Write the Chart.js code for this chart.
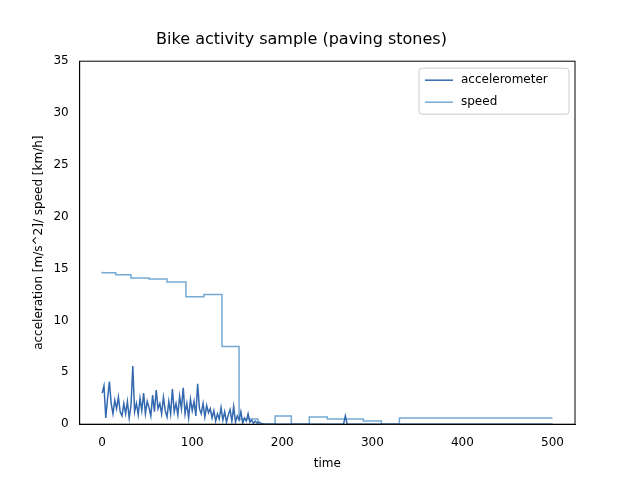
<!DOCTYPE html>
<html>
<head>
<script src="https://cdn.jsdelivr.net/npm/chart.js"></script>
<style>body{margin:0;background:#fff}</style>
</head>
<body>
<canvas id="myChart" width="640" height="480"></canvas>
<script>
// accelerometer samples every 2 time units from 0 to 180
const accValues = [3.0,3.7,0.6,2.5,4.1,2.0,1.0,2.3,1.5,2.6,1.2,0.8,2.0,1.0,2.2,0.6,1.8,5.6,1.2,2.0,
  0.9,2.5,1.3,3.0,1.0,2.2,1.6,0.8,2.8,1.2,3.3,1.5,2.0,1.0,2.6,1.3,0.7,2.2,1.0,3.4,
  1.2,2.0,0.9,2.7,1.5,3.5,1.0,2.0,0.6,2.4,1.3,2.2,0.8,3.9,1.5,1.0,2.0,0.7,1.8,1.1,
  1.5,0.6,1.3,0.3,1.0,0.5,1.6,0.4,1.2,0.2,0.9,1.4,0.3,1.7,0.2,0.8,0.4,1.2,0.1,0.6,
  0.3,1.0,0.2,0.4,0.1,0.3,0.1,0.2,0.1,0.05,0.0];
const accTailX = [200, 268, 270, 272, 500];
const accTailY = [0, 0, 0.8, 0, 0];

const speedX = [0, 15, 32, 52, 72, 93, 113, 133, 152, 173, 192, 210, 230, 250, 290, 310, 330, 388, 500];
const speedY = [14.7, 14.6, 14.4, 14.1, 14.0, 13.7, 12.3, 12.5, 7.5, 0.5, 0.0, 0.8, 0.0, 0.7, 0.5, 0.3, 0.0, 0.6, 0.6];

const xTicks = [0, 100, 200, 300, 400, 500];
const yTicks = [0, 5, 10, 15, 20, 25, 30, 35];

const accData = accValues.map((v, i) => ({x: i * 2, y: v}))
  .concat(accTailX.map((x, i) => ({x: x, y: accTailY[i]})));
const speedData = speedX.map((x, i) => ({x: x, y: speedY[i]}));

const font = {family: 'DejaVu Sans', size: 12};
const ctx = document.getElementById('myChart').getContext('2d');
new Chart(ctx, {
  type: 'line',
  data: {
    datasets: [{
      label: 'accelerometer',
      data: accData,
      borderColor: '#3469b0',
      borderWidth: 1.5,
      pointRadius: 0
    }, {
      label: 'speed',
      data: speedData,
      stepped: 'after',
      borderColor: '#74a9d4',
      borderWidth: 1.5,
      pointRadius: 0
    }]
  },
  options: {
    responsive: false,
    animation: false,
    layout: {padding: {left: 28, right: 65, top: 5, bottom: 5}},
    plugins: {
      title: {display: true, text: 'Bike activity sample (paving stones)', color: '#000',
        font: {family: 'DejaVu Sans', size: 16, weight: 'normal'}, padding: {top: 25, bottom: 12}},
      legend: {display: false}
    },
    scales: {
      x: {
        type: 'linear', min: -25, max: 525,
        afterBuildTicks: s => { s.ticks = xTicks.map(v => ({value: v})); },
        title: {display: true, text: 'time', color: '#000', font: font},
        grid: {display: false},
        border: {color: '#000'},
        ticks: {color: '#000', font: font}
      },
      y: {
        min: 0, max: 35,
        afterBuildTicks: s => { s.ticks = yTicks.map(v => ({value: v})); },
        title: {display: true, text: 'acceleration [m/s^2]/ speed [km/h]', color: '#000', font: font},
        grid: {display: false},
        border: {color: '#000'},
        ticks: {color: '#000', font: font}
      }
    }
  },
  plugins: [{
    id: 'frameAndLegend',
    afterDraw(c) {
      const a = c.chartArea, g = c.ctx;
      g.save();
      g.strokeStyle = '#000'; g.lineWidth = 1;
      g.strokeRect(a.left, a.top, a.right - a.left, a.bottom - a.top);
      // legend box, top right
      const w = 150, h = 46, x0 = a.right - w - 6, y0 = a.top + 7;
      g.fillStyle = 'rgba(255,255,255,0.8)';
      g.strokeStyle = '#ccc';
      g.beginPath(); g.roundRect(x0, y0, w, h, 3); g.fill(); g.stroke();
      g.font = '12px "DejaVu Sans"'; g.textBaseline = 'middle'; g.fillStyle = '#000';
      c.data.datasets.forEach((d, i) => {
        const yy = y0 + 12 + i * 22;
        g.strokeStyle = d.borderColor; g.lineWidth = 1.5;
        g.beginPath(); g.moveTo(x0 + 6, yy); g.lineTo(x0 + 34, yy); g.stroke();
        g.fillText(d.label, x0 + 42, yy);
      });
      g.restore();
    }
  }]
});
</script>
</body>
</html>
